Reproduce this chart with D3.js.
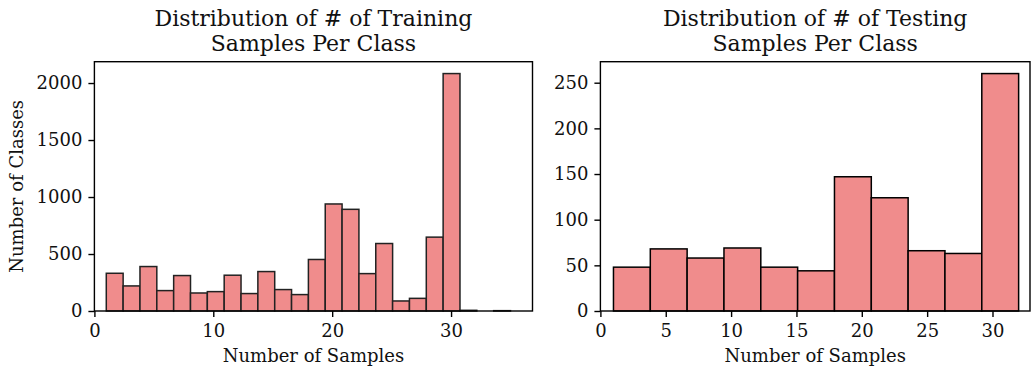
<!DOCTYPE html>
<html>
<head>
<meta charset="utf-8">
<script src="https://cdn.jsdelivr.net/npm/d3@7"></script>
<style>
  html, body { margin: 0; padding: 0; background: #fff; }
  svg { display: block; }
  text { font-family: "DejaVu Serif", serif; fill: #111; }
</style>
</head>
<body>
<svg id="chart" width="1031" height="369"></svg>
<script>
// Training histogram: 24 bins from 1 to 35
const trainBinStart = 1;
const trainBinEnd = 35;
const trainCounts = [331, 220, 390, 179, 311, 158, 170, 314, 153, 346, 188, 144,
                     452, 939, 892, 328, 592, 88, 111, 648, 2083, 6, 0, 3];
const trainXTicks = [0, 10, 20, 30];
const trainYTicks = [0, 500, 1000, 1500, 2000];

// Testing histogram: 11 bins from 1 to 32
const testBinStart = 1;
const testBinEnd = 32;
const testCounts = [48, 68, 58, 69, 48, 44, 147, 124, 66, 63, 260];
const testXTicks = [0, 5, 10, 15, 20, 25, 30];
const testYTicks = [0, 50, 100, 150, 200, 250];

const titles = [["Distribution of # of Training", "Samples Per Class"],
                ["Distribution of # of Testing", "Samples Per Class"]];
const xLabel = "Number of Samples";
const yLabel = "Number of Classes";

const svg = d3.select("#chart");

function drawPanel(cfg) {
  const { left, right, top, bottom, xMax, counts, b0, b1, xTicks, yTicks, title, showYLabel, edge } = cfg;
  const g = svg.append("g");
  const n = counts.length;
  const w = (b1 - b0) / n;
  const yMax = d3.max(counts) * 1.05;
  const x = d3.scaleLinear().domain([0, xMax]).range([left, right]);
  const y = d3.scaleLinear().domain([0, yMax]).range([bottom, top]);

  const bins = counts.map((c, i) => ({ x0: b0 + i * w, x1: b0 + (i + 1) * w, c }));
  g.selectAll("rect.bar").data(bins).enter().append("rect")
    .attr("class", "bar")
    .attr("x", d => x(d.x0))
    .attr("width", d => x(d.x1) - x(d.x0))
    .attr("y", d => y(d.c))
    .attr("height", d => y(0) - y(d.c))
    .attr("fill", "#f08c8c")
    .attr("stroke", edge)
    .attr("stroke-width", 1.5);

  // frame
  g.append("rect")
    .attr("x", left).attr("y", top)
    .attr("width", right - left).attr("height", bottom - top)
    .attr("fill", "none").attr("stroke", "#000").attr("stroke-width", 1.4);

  const xAxis = g.append("g").attr("transform", `translate(0,${bottom})`)
    .call(d3.axisBottom(x).tickValues(xTicks).tickSize(6).tickPadding(7).tickFormat(d3.format("d")));
  const yAxis = g.append("g").attr("transform", `translate(${left},0)`)
    .call(d3.axisLeft(y).tickValues(yTicks).tickSize(6).tickPadding(6).tickFormat(d3.format("d")));
  [xAxis, yAxis].forEach(a => {
    a.select(".domain").remove();
    a.selectAll(".tick line").attr("stroke", "#000").attr("stroke-width", 1.4);
    a.selectAll(".tick text").style("font-family", "DejaVu Serif").style("font-size", "18px").attr("fill", "#111");
  });

  const cx = (left + right) / 2;
  g.append("text").attr("x", cx).attr("y", 26).attr("text-anchor", "middle")
    .style("font-size", "22px").text(title[0]);
  g.append("text").attr("x", cx).attr("y", 51).attr("text-anchor", "middle")
    .style("font-size", "22px").text(title[1]);

  g.append("text").attr("x", cx).attr("y", 362).attr("text-anchor", "middle")
    .style("font-size", "18px").text(xLabel);

  if (showYLabel) {
    g.append("text")
      .attr("transform", `translate(23,${(top + bottom) / 2}) rotate(-90)`)
      .attr("text-anchor", "middle")
      .style("font-size", "18px").text(yLabel);
  }
}

drawPanel({ left: 94.4, right: 532.5, top: 61.7, bottom: 311, xMax: 36.85,
  counts: trainCounts, b0: trainBinStart, b1: trainBinEnd,
  xTicks: trainXTicks, yTicks: trainYTicks, title: titles[0], showYLabel: true, edge: "#222" });

drawPanel({ left: 600.4, right: 1030, top: 61.7, bottom: 311, xMax: 32.87,
  counts: testCounts, b0: testBinStart, b1: testBinEnd,
  xTicks: testXTicks, yTicks: testYTicks, title: titles[1], showYLabel: false, edge: "#000" });
</script>
</body>
</html>
